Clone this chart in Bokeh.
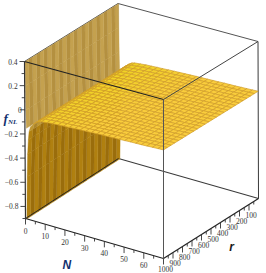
from bokeh.plotting import figure
from bokeh.embed import file_html
from bokeh.resources import INLINE
from bokeh.models import Range1d
from bokeh.core.properties import value

# ---- values ----
n_wall = [0.7, 1.0, 1.3, 1.7, 2.1, 2.8, 4.2]
z_wall = [-0.9, -0.55, -0.36, -0.24, -0.17, -0.13, -0.10]
n_plateau = [4.2, 5.6, 7, 8.4, 11.2, 14, 16.8, 19.6, 22.4, 25.2, 28, 30.8, 33.6, 36.4, 39.2, 42, 44.8,
             47.6, 50.4, 53.2, 56, 58.8, 61.6, 64.4, 67.2, 70]
z_plateau = [-0.10, -0.08, -0.066, -0.06, -0.055, -0.05, -0.048, -0.045, -0.043, -0.04, -0.038, -0.036,
             -0.034, -0.032, -0.03, -0.029, -0.027, -0.026, -0.024, -0.022, -0.021, -0.02, -0.018,
             -0.016, -0.014, -0.012]
upper_n = [0.28, 0.35, 0.5, 0.7]
upper_z = [0.4, 0.2, 0.0, -0.15]
r_values = [0, 40, 80, 120, 160, 200, 240, 280, 320, 360, 400, 440, 480, 520, 560, 600, 640, 680, 720,
            760, 800, 840, 880, 920, 960, 1000]
n_ticks = [0, 5, 10, 15, 20, 25, 30, 35, 40, 45, 50, 55, 60, 65]
n_labels = [0, 10, 20, 30, 40, 50, 60]
r_ticks = [50, 100, 150, 200, 250, 300, 350, 400, 450, 500, 550, 600, 650, 700, 750, 800, 850, 900, 950, 1000]
r_labels = [100, 200, 300, 400, 500, 600, 700, 800, 900, 1000]
z_ticks = [0.4, 0.3, 0.2, 0.1, 0, -0.1, -0.2, -0.3, -0.4, -0.5, -0.6, -0.7, -0.8, -0.9]
z_labels = [0.4, 0.2, 0, -0.2, -0.4, -0.6, -0.8]
N_RANGE = (0, 70); R_RANGE = (0, 1000); Z_RANGE = (-0.9, 0.4)

W, H = 266, 273
# screen corners of the viewing box (N, r, z end -> pixel)
C = {(0, 0, 0): (118, 158), (0, 0, 1): (117.5, 3), (0, 1, 0): (25, 218), (0, 1, 1): (24, 61),
     (1, 0, 0): (258, 198), (1, 0, 1): (257.5, 41), (1, 1, 0): (163, 258), (1, 1, 1): (163, 99)}


def proj(n, r, z):
    a = (n - N_RANGE[0]) / (N_RANGE[1] - N_RANGE[0])
    b = (r - R_RANGE[0]) / (R_RANGE[1] - R_RANGE[0])
    c = (z - Z_RANGE[0]) / (Z_RANGE[1] - Z_RANGE[0])
    x = y = 0
    for i, wa in ((0, 1 - a), (1, a)):
        for j, wb in ((0, 1 - b), (1, b)):
            for k, wc in ((0, 1 - c), (1, c)):
                px, py = C[(i, j, k)]
                x += wa * wb * wc * px
                y += wa * wb * wc * py
    return x, H - y


p = figure(width=W, height=H, output_backend="svg", toolbar_location=None,
           x_range=Range1d(0, W), y_range=Range1d(0, H), min_border=0)
p.axis.visible = False
p.grid.visible = False
p.outline_line_color = None
p.background_fill_color = "white"
p.border_fill_color = "white"


def line(a, b, color="#3a3a3a", w=1.0, alpha=1.0):
    x0, y0 = proj(*a); x1, y1 = proj(*b)
    p.line([x0, x1], [y0, y1], line_color=color, line_width=w, line_alpha=alpha)


N0, N1 = N_RANGE; R0, R1 = R_RANGE; Z0, Z1 = Z_RANGE
# hidden edges of the box
line((N0, R0, Z0), (N1, R0, Z0), w=1.1)
line((N0, R0, Z0), (N0, R0, Z1), color="#888888", w=1.0)
line((N0, R0, Z1), (N1, R0, Z1), color="#555555", w=1.0)
line((N0, R0, Z1), (N0, R1, Z1), color="#555555", w=1.0)
line((N1, R0, Z0), (N1, R0, Z1), w=1.0)


def quads(ns, zs, colors, line_color, lw, alpha=1.0):
    xs, ys, fills = [], [], []
    for i in range(len(ns) - 1):
        for j in range(len(r_values) - 1):
            pts = [proj(ns[i], r_values[j], zs[i]), proj(ns[i + 1], r_values[j], zs[i + 1]),
                   proj(ns[i + 1], r_values[j + 1], zs[i + 1]), proj(ns[i], r_values[j + 1], zs[i])]
            xs.append([q[0] for q in pts]); ys.append([q[1] for q in pts])
            fills.append(colors(i, j))
    p.patches(xs, ys, fill_color=fills, line_color=fills if line_color is None else line_color,
              line_width=lw if line_color is not None else 0.4, fill_alpha=alpha)


stripe_up = ["#c4a14f", "#b49040"]
stripe_lo = ["#b08010", "#9a6d0c"]
shoulder = ["#bd9632", "#aa842a"]

# upper sheet, then lower sheet, then plateau, painted far to near
quads(upper_n, upper_z, lambda i, j: stripe_up[j % 2], None, 0)
quads(n_wall, z_wall, lambda i, j: (shoulder if i >= 4 else stripe_lo)[j % 2], None, 0)


def plateau_color(i, j):
    a = i / (len(n_plateau) - 2)
    b = j / (len(r_values) - 2)
    t = min(1.0, a * 1.7 + 0.25 * b)
    r0, g0, b0 = (238, 212, 30)
    r1, g1, b1 = (249, 205, 60)
    return "#%02x%02x%02x" % (int(r0 + (r1 - r0) * t), int(g0 + (g1 - g0) * t), int(b0 + (b1 - b0) * t))


quads(n_plateau, z_plateau, plateau_color, "#d09c2a", 0.7)

# near edges of the box
line((N0, R1, Z0), (N1, R1, Z0), w=1.2, color="#222222")
line((N1, R0, Z0), (N1, R1, Z0), w=1.2, color="#222222")
line((N1, R1, Z0), (N1, R1, Z1), w=1.0, color="#555555")
line((N0, R1, Z1), (N1, R1, Z1), w=1.1, color="#222222")
line((N1, R0, Z1), (N1, R1, Z1), w=1.0, color="#444444")
line((N0, R1, Z0), (N0, R1, Z1), w=1.2, color="#333333")
line((N0, R0, Z0), (N0, R1, Z0), w=1.0, color="#222222")


def text(x, y, s, size="7.5px", style="normal", color="#333333", font="Liberation Serif", align="center"):
    p.text([x], [y], text=[s], text_font=value(font), text_font_size=value(size),
           text_font_style=style, text_color=color, text_align=align, text_baseline="middle")


# N axis ticks
for n in n_ticks:
    x0, y0 = proj(n, R1, Z0)
    p.line([x0, x0], [y0, y0 - (6 if n in n_labels else 3)], line_color="#333333", line_width=0.9)
for n in n_labels:
    x0, y0 = proj(n, R1, Z0)
    text(x0, y0 - 12, str(n))
# r axis ticks
for r in r_ticks:
    x0, y0 = proj(N1, r, Z0)
    p.line([x0, x0], [y0, y0 - (6 if r in r_labels else 3)], line_color="#333333", line_width=0.9)
for r in r_labels:
    x0, y0 = proj(N1, r, Z0)
    text(x0 + 2, y0 - 10.5, str(r))
# z axis ticks
for z in z_ticks:
    x0, y0 = proj(N0, R1, z)
    p.line([x0 - (5 if z in z_labels else 3), x0], [y0, y0], line_color="#333333", line_width=0.9)
for z in z_labels:
    x0, y0 = proj(N0, R1, z)
    if z == 0:
        s, gap = "0", 3
    else:
        s, gap = (str(z) if z > 0 else "\u2212" + str(-z)), 7
    text(x0 - gap, y0, s, align="right")

# axis titles
xl, yl = proj(21, R1, Z0)
text(xl, yl - 34, "N", size="12px", style="bold italic", color="#12306e", font="Liberation Sans")
xl, yl = proj(N1, 284, Z0)
text(xl, yl - 31, "r", size="12px", style="bold italic", color="#1a1a1a", font="Liberation Sans")
text(3, H - 118, "f", size="13px", style="bold italic", color="#12306e", font="Liberation Serif", align="left")
text(7.5, H - 121.5, "NL", size="7px", style="bold italic", color="#12306e", font="Liberation Serif", align="left")

open("out.html", "w").write(file_html(p, INLINE))
